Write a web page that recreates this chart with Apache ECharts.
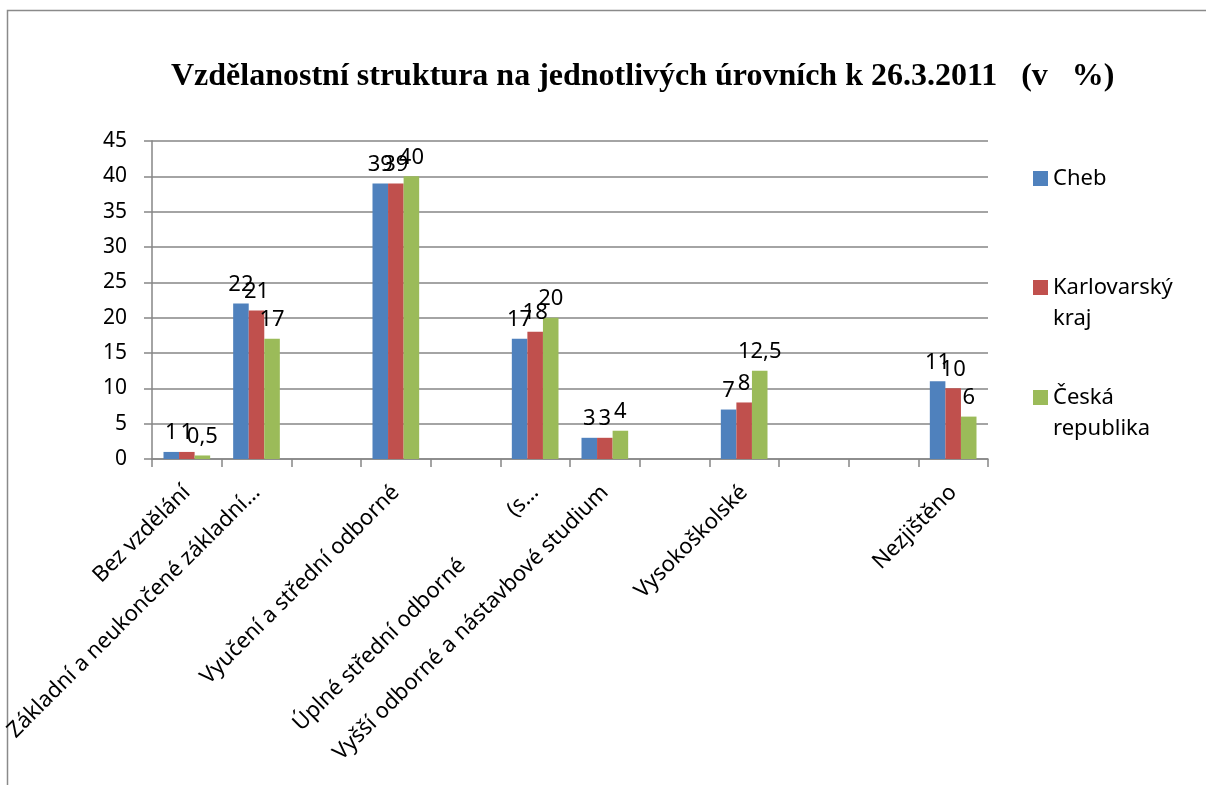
<!DOCTYPE html>
<html>
<head>
<meta charset="utf-8">
<script src="https://cdn.jsdelivr.net/npm/echarts@6/dist/echarts.min.js"></script>
<style>
  html, body { margin: 0; padding: 0; background: #fff; }
  #chart { width: 1206px; height: 785px; }
</style>
</head>
<body>
<div id="chart"></div>
<script>
// categories (empty ones are gaps in the original sheet)
const categories = [
  'Bez vzdělání',
  'Základní a neukončené základní…',
  '',
  'Vyučení a střední odborné',
  '',
  'Úplné střední odborné\u00a0\u00a0\u00a0\u00a0\u00a0\u00a0\u00a0\u00a0\u00a0\u00a0\u00a0\u00a0(s…',
  'Vyšší odborné a nástavbové studium',
  '',
  'Vysokoškolské',
  '',
  '',
  'Nezjištěno'
]
const chebData = [1, 22, null, 39, null, 17, 3, null, 7, null, null, 11]
const krajData = [1, 21, null, 39, null, 18, 3, null, 8, null, null, 10]
const crData = [0.5, 17, null, 40, null, 20, 4, null, 12.5, null, null, 6]
const seriesNames = ['Cheb', 'Karlovarský kraj', 'Česká republika']
// blank first line keeps the first text line level with the colour box
const legendLabels = ['Cheb', '\u00a0\nKarlovarský\nkraj', '\u00a0\nČeská\nrepublika']
const colors = ['#4F81BD', '#C0504D', '#9BBB59']
const yMin = 0
const yMax = 45
const yStep = 5

const FONT = 'Noto Sans'
const gridColor = '#868686'

const chart = echarts.init(document.getElementById('chart'))

function makeBar(name, data, color) {
  return {
    name: name,
    type: 'bar',
    data: data,
    barGap: '0%',
    barCategoryGap: '33%',
    itemStyle: { color: color },
    label: {
      show: true,
      position: 'top',
      distance: 8,
      color: '#000',
      fontFamily: FONT,
      fontSize: 22,
      formatter: p => String(p.value).replace('.', ',')
    }
  }
}

function makeLegend(i, top) {
  return {
    data: [seriesNames[i]],
    left: 1033,
    top: top,
    padding: 0,
    itemWidth: 15,
    itemHeight: 15,
    icon: 'rect',
    formatter: () => legendLabels[i],
    textStyle: {
      fontFamily: FONT,
      fontSize: 22,
      color: '#000',
      lineHeight: 31
    }
  }
}

chart.setOption({
  animation: false,
  backgroundColor: '#fff',
  graphic: [{
    type: 'rect',
    shape: { x: 7.5, y: 10.5, width: 1220, height: 800 },
    style: { fill: 'none', stroke: '#8a8a8a', lineWidth: 1.5 },
    silent: true
  }],
  title: {
    text: 'Vzdělanostní struktura na jednotlivých úrovních k 26.3.2011   (v   %)',
    left: 166,
    top: 56,
    textStyle: {
      fontFamily: 'Liberation Serif',
      fontWeight: 'bold',
      fontSize: 32,
      color: '#000'
    }
  },
  legend: [
    makeLegend(0, 163),
    makeLegend(1, 241),
    makeLegend(2, 351)
  ],
  grid: {
    left: 152,
    right: 218,
    top: 141,
    bottom: 326,
    outerBoundsMode: 'none'
  },
  xAxis: {
    type: 'category',
    data: categories,
    axisLine: { lineStyle: { color: gridColor, width: 1.5 } },
    axisTick: { show: true, interval: 0, length: 8, lineStyle: { color: gridColor, width: 1.5 } },
    axisLabel: {
      interval: 0,
      rotate: 45,
      margin: 30,
      color: '#000',
      fontFamily: FONT,
      fontSize: 22
    }
  },
  yAxis: {
    type: 'value',
    min: yMin,
    max: yMax,
    interval: yStep,
    axisLine: { show: true, lineStyle: { color: gridColor, width: 1.5 } },
    axisTick: { show: true, length: 8, lineStyle: { color: gridColor, width: 1.5 } },
    splitLine: { lineStyle: { color: gridColor, width: 1.5 } },
    axisLabel: {
      margin: 25,
      color: '#000',
      fontFamily: FONT,
      fontSize: 21
    }
  },
  series: [
    makeBar(seriesNames[0], chebData, colors[0]),
    makeBar(seriesNames[1], krajData, colors[1]),
    makeBar(seriesNames[2], crData, colors[2])
  ]
})
</script>
</body>
</html>
